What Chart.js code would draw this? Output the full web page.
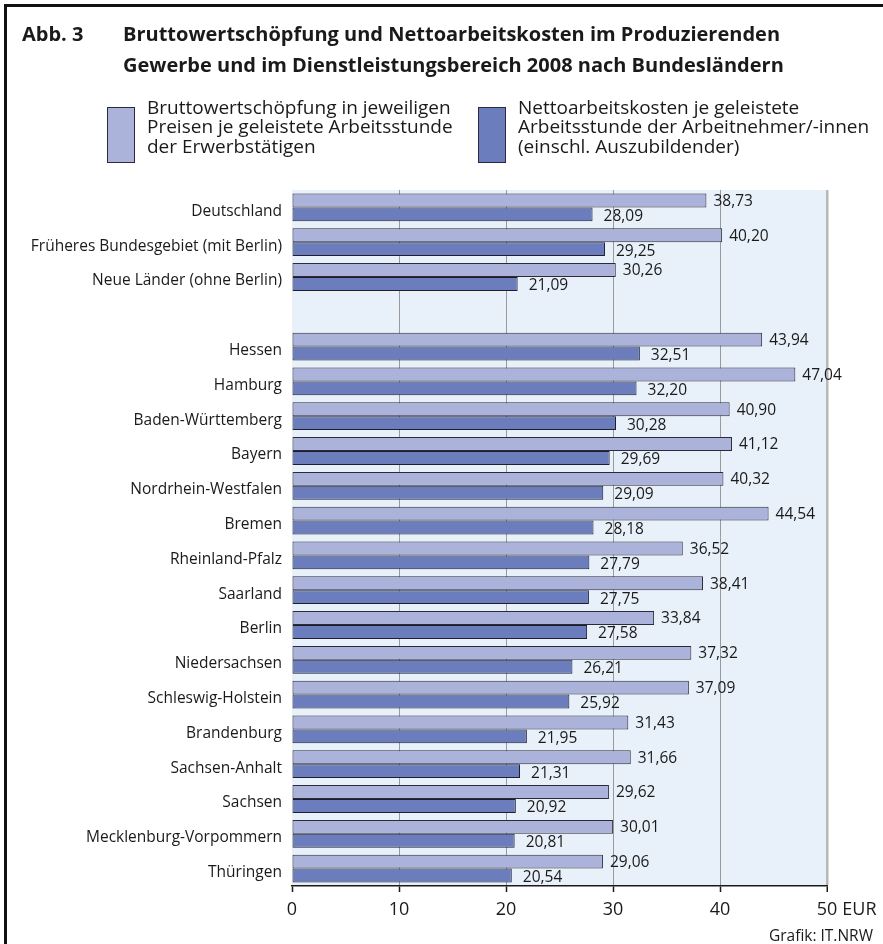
<!DOCTYPE html>
<html lang="de">
<head>
<meta charset="utf-8">
<script src="https://cdn.jsdelivr.net/npm/chart.js@4"></script>
<style>
  html, body { margin: 0; padding: 0; background: #fff; }
  #wrap { position: relative; width: 883px; height: 944px; overflow: hidden; font-family: "Open Sans", "Noto Sans", sans-serif; color: #1a1a1a; }
  #frame { position: absolute; left: 4px; top: 4px; width: 900px; height: 960px; border-left: 3px solid #111; border-top: 3px solid #111; box-sizing: border-box; }
  canvas { position: absolute; left: 0; top: 0; }
  .t { position: absolute; white-space: nowrap; }
  #abb { left: 22px; top: 17.5px; font-weight: 700; font-size: 20px; line-height: 31px; }
  #title { left: 123px; top: 17.5px; font-weight: 700; font-size: 20px; line-height: 31px; }
  .lbox { position: absolute; width: 28px; height: 56px; top: 107px; box-sizing: border-box; border: 1px solid #2a2a3a; }
  .ltext { position: absolute; top: 97.5px; font-size: 19px; line-height: 19.8px; }
  #credit { right: 10px; top: 925px; font-size: 15.5px; line-height: 20px; }
</style>
</head>
<body>
<div id="wrap">
  <canvas id="c" width="883" height="944"></canvas>
  <div id="frame"></div>
  <div class="t" id="abb">Abb. 3</div>
  <div class="t" id="title">Bruttowertschöpfung und Nettoarbeitskosten im Produzierenden<br>Gewerbe und im Dienstleistungsbereich 2008 nach Bundesländern</div>
  <div id="legend"></div>
  <div class="t" id="credit">Grafik: IT.NRW</div>
</div>
<script>
const categories = [
  "Deutschland",
  "Früheres Bundesgebiet (mit Berlin)",
  "Neue Länder (ohne Berlin)",
  "",
  "Hessen",
  "Hamburg",
  "Baden-Württemberg",
  "Bayern",
  "Nordrhein-Westfalen",
  "Bremen",
  "Rheinland-Pfalz",
  "Saarland",
  "Berlin",
  "Niedersachsen",
  "Schleswig-Holstein",
  "Brandenburg",
  "Sachsen-Anhalt",
  "Sachsen",
  "Mecklenburg-Vorpommern",
  "Thüringen"
];
const bruttowertschoepfung = [38.73, 40.20, 30.26, null, 43.94, 47.04, 40.90, 41.12, 40.32, 44.54, 36.52, 38.41, 33.84, 37.32, 37.09, 31.43, 31.66, 29.62, 30.01, 29.06];
const nettoarbeitskosten = [28.09, 29.25, 21.09, null, 32.51, 32.20, 30.28, 29.69, 29.09, 28.18, 27.79, 27.75, 27.58, 26.21, 25.92, 21.95, 21.31, 20.92, 20.81, 20.54];
const seriesNames = [
  ["Bruttowertschöpfung in jeweiligen", "Preisen je geleistete Arbeitsstunde", "der Erwerbstätigen"],
  ["Nettoarbeitskosten je geleistete", "Arbeitsstunde der Arbeitnehmer/-innen", "(einschl. Auszubildender)"]
];
const xTicks = [0, 10, 20, 30, 40, 50];
const xUnit = "EUR";

const FONT = '"Open Sans", "Noto Sans", sans-serif';
const colors = ['#abb3da', '#6b7dbd'];
const legendPos = [{box: 107, text: 147}, {box: 478, text: 518}];

// HTML legend built from the series names
const lg = document.getElementById('legend');
seriesNames.forEach((lines, i) => {
  const b = document.createElement('div');
  b.className = 'lbox';
  b.style.left = legendPos[i].box + 'px';
  b.style.background = colors[i];
  lg.appendChild(b);
  const t = document.createElement('div');
  t.className = 't ltext';
  t.style.left = legendPos[i].text + 'px';
  t.innerHTML = lines.join('<br>');
  lg.appendChild(t);
});

const fmt = v => v.toFixed(2).replace('.', ',');

const bgPlugin = {
  id: 'plotBg',
  beforeDraw(chart) {
    const a = chart.chartArea, ctx = chart.ctx;
    ctx.save();
    ctx.fillStyle = '#e8f0f9';
    ctx.fillRect(a.left, a.top, a.right - a.left, a.bottom - a.top);
    ctx.restore();
  }
};

const valuePlugin = {
  id: 'values',
  afterDatasetsDraw(chart) {
    const ctx = chart.ctx;
    ctx.save();
    ctx.font = '15.5px ' + FONT;
    ctx.fillStyle = '#1a1a1a';
    ctx.textAlign = 'left';
    ctx.textBaseline = 'middle';
    chart.data.datasets.forEach((ds, di) => {
      const meta = chart.getDatasetMeta(di);
      meta.data.forEach((el, i) => {
        const v = ds.data[i];
        if (v === null || v === undefined) return;
        const dx = di === 0 ? 7 : 11;
        const dy = di === 0 ? 1 : 2;
        ctx.fillText(fmt(v), el.x + dx, el.y + dy);
      });
    });
    ctx.restore();
  }
};

const unitPlugin = {
  id: 'unit',
  afterDraw(chart) {
    const s = chart.scales.x, ctx = chart.ctx;
    const last = xTicks[xTicks.length - 1];
    const px = s.getPixelForValue(last);
    ctx.save();
    ctx.font = '18px ' + FONT;
    const w = ctx.measureText(String(last)).width;
    ctx.fillStyle = '#1a1a1a';
    ctx.textAlign = 'left';
    ctx.textBaseline = 'middle';
    ctx.fillText(xUnit, px + w / 2 + 5, 910);
    ctx.restore();
  }
};

new Chart(document.getElementById('c'), {
  type: 'bar',
  data: {
    labels: categories,
    datasets: [
      { label: seriesNames[0].join(' '), data: bruttowertschoepfung, backgroundColor: colors[0], borderColor: '#2a2a3a', borderWidth: 1, borderSkipped: false },
      { label: seriesNames[1].join(' '), data: nettoarbeitskosten, backgroundColor: colors[1], borderColor: '#1e1e2e', borderWidth: 1, borderSkipped: false }
    ]
  },
  options: {
    indexAxis: 'y',
    responsive: false,
    animation: false,
    maintainAspectRatio: false,
    layout: { padding: { top: 190, right: 56, bottom: 0, left: 0 } },
    categoryPercentage: 0.8,
    barPercentage: 1.0,
    plugins: { legend: { display: false }, tooltip: { enabled: false }, title: { display: false } },
    scales: {
      y: {
        type: 'category',
        grid: { display: false, drawTicks: false },
        border: { display: false },
        ticks: { color: '#1a1a1a', font: { family: FONT, size: 15.5 }, padding: 10, labelOffset: 4, autoSkip: false },
        afterFit(s) { s.width = 292; }
      },
      x: {
        min: xTicks[0],
        max: xTicks[xTicks.length - 1],
        afterBuildTicks(s) { s.ticks = xTicks.map(v => ({ value: v })); },
        ticks: { color: '#1a1a1a', font: { family: FONT, size: 18 }, padding: 7 },
        grid: {
          color: c => c.tick && c.tick.value === 0 ? 'rgba(0,0,0,0)' : (c.tick && c.tick.value === 50 ? '#b8b8b8' : '#9a9a9a'),
          lineWidth: c => c.tick && c.tick.value === 50 ? 2.5 : 1,
          tickColor: '#1a1a1a',
          tickLength: 6,
          tickWidth: 1.5
        },
        border: { display: true, color: '#1a1a1a', width: 1.5 },
        afterFit(s) { s.height = 58; }
      }
    }
  },
  plugins: [bgPlugin, valuePlugin, unitPlugin]
});
</script>
</body>
</html>
